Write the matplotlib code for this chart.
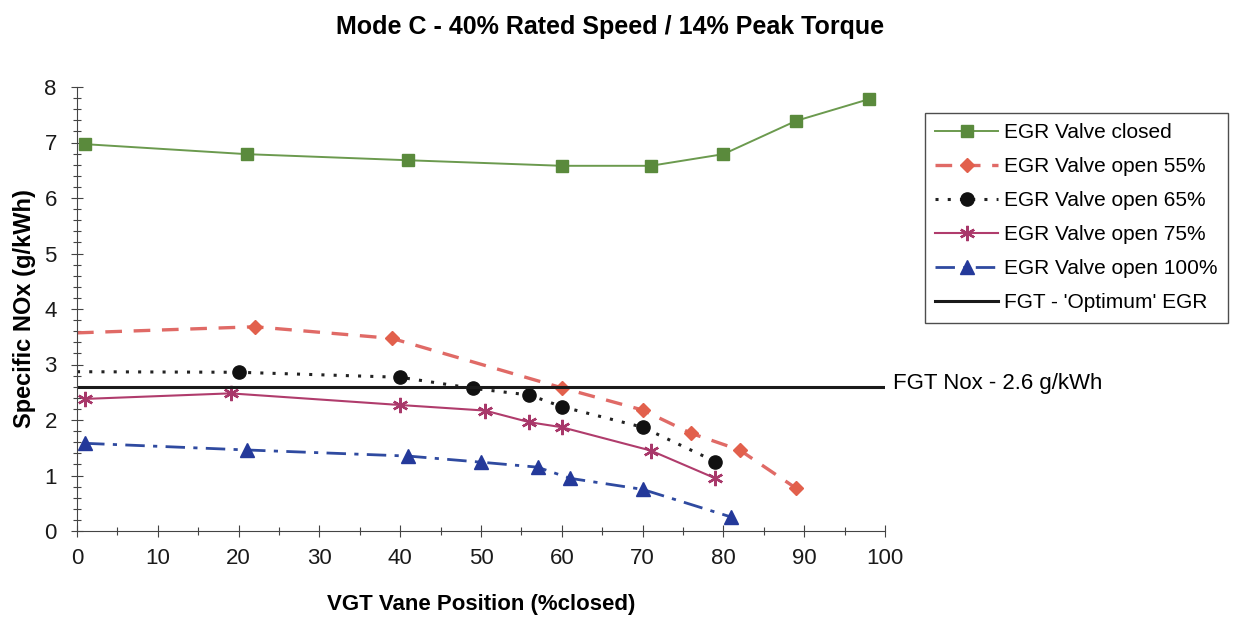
import matplotlib.pyplot as plt
from matplotlib.ticker import MultipleLocator

plt.rcParams['font.family'] = ['Liberation Sans', 'DejaVu Sans']

# VGT vane position (%closed) and specific NOx (g/kWh) for each EGR setting
x_closed = [1, 21, 41, 60, 71, 80, 89, 98]
nox_closed = [6.97, 6.79, 6.68, 6.58, 6.58, 6.79, 7.39, 7.78]

x_open55 = [0, 22, 39, 60, 70, 76, 82, 89]
nox_open55 = [3.57, 3.68, 3.47, 2.58, 2.18, 1.76, 1.46, 0.77]

x_open65 = [0, 20, 40, 49, 56, 60, 70, 79]
nox_open65 = [2.87, 2.86, 2.77, 2.57, 2.45, 2.24, 1.87, 1.25]

x_open75 = [1, 19, 40, 50.5, 56, 60, 71, 79]
nox_open75 = [2.38, 2.48, 2.27, 2.17, 1.96, 1.87, 1.45, 0.95]

x_open100 = [1, 21, 41, 50, 57, 61, 70, 81]
nox_open100 = [1.58, 1.46, 1.35, 1.24, 1.15, 0.95, 0.75, 0.25]

fgt_nox = 2.6

fig = plt.figure(figsize=(12.36, 6.19), dpi=100)
ax = fig.add_axes([77 / 1236, 1 - 531 / 619, 808 / 1236, 444 / 619])

ax.plot(x_closed, nox_closed, color='#6b9a4e', lw=1.4, marker='s', ms=8.5,
        mfc='#5a8a3c', mec='#5a8a3c', label='EGR Valve closed')
ax.plot(x_open55, nox_open55, color='#e06a66', lw=2.4, ls=(0, (5, 3.5)),
        marker='D', ms=7, mfc='#e2604c', mec='#e2604c',
        markevery=slice(1, None), label='EGR Valve open 55%')
ax.plot(x_open65, nox_open65, color='#222222', lw=2.2, ls=(0, (1, 3)),
        marker='o', ms=9.5, mfc='#111111', mec='#111111',
        markevery=slice(1, None), label='EGR Valve open 65%')
ax.plot(x_open75, nox_open75, color='#b03c6c', lw=1.5,
        marker=(6, 2, 0), ms=11, mew=1.7, mec='#a8386a',
        label='EGR Valve open 75%')
ax.plot(x_open100, nox_open100, color='#2f4aa0', lw=2.0, ls=(0, (7, 3, 1.5, 3)),
        marker='^', ms=9.5, mfc='#24399a', mec='#24399a',
        label='EGR Valve open 100%')
ax.axhline(fgt_nox, color='#1a1a1a', lw=2.2, label="FGT - 'Optimum' EGR")

ax.text(101, fgt_nox + 0.06, 'FGT Nox - 2.6 g/kWh', fontsize=16,
        va='center', ha='left', clip_on=False)

ax.set_xlim(0, 100)
ax.set_ylim(0, 8)
ax.xaxis.set_major_locator(MultipleLocator(10))
ax.xaxis.set_minor_locator(MultipleLocator(5))
ax.yaxis.set_major_locator(MultipleLocator(1))
ax.yaxis.set_minor_locator(MultipleLocator(0.2))
ax.tick_params(which='major', direction='inout', length=9, width=0.8,
               colors='#444444', labelcolor='#1a1a1a', labelsize=16, pad=8)
ax.tick_params(which='minor', direction='inout', length=6, width=0.8,
               colors='#444444')
ax.tick_params(axis='y', pad=10)

for side in ['top', 'right']:
    ax.spines[side].set_visible(False)
for side in ['left', 'bottom']:
    ax.spines[side].set_color('#444444')
    ax.spines[side].set_linewidth(0.8)

ax.set_xlabel('VGT Vane Position (%closed)', fontsize=16, fontweight='bold',
              labelpad=18)
ax.set_ylabel('Specific NOx (g/kWh)', fontsize=17, fontweight='bold',
              labelpad=6)
fig.text(610 / 1236, 1 - 27 / 619, 'Mode C - 40% Rated Speed / 14% Peak Torque',
         fontsize=18, fontweight='bold', ha='center', va='center')

leg = ax.legend(loc='upper left', bbox_to_anchor=(925 / 1236, 1 - 113 / 619),
                bbox_transform=fig.transFigure, fontsize=15, frameon=True,
                fancybox=False, edgecolor='#222222', handlelength=3.0,
                handletextpad=0.3, labelspacing=0.72, borderpad=0.5,
                borderaxespad=0)
leg.get_frame().set_linewidth(1.0)

fig.savefig('out.png', dpi=100)
